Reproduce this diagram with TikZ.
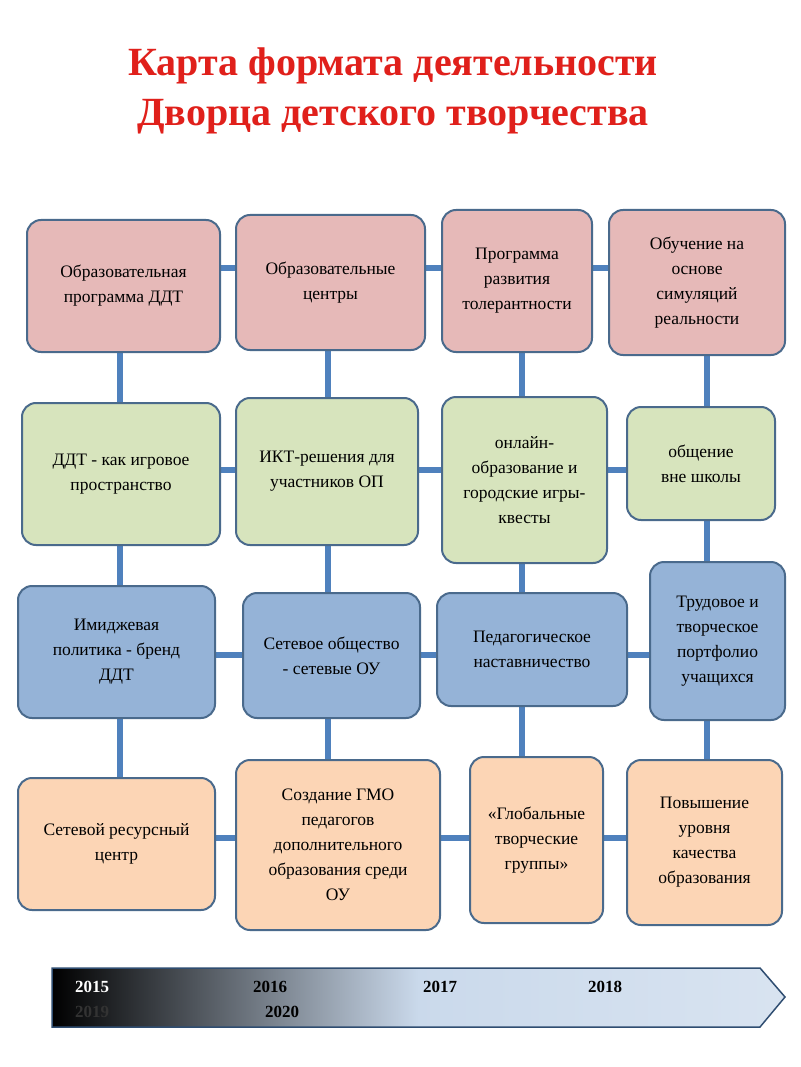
\documentclass[tikz,border=0pt]{standalone}
\usepackage{fontspec}
\setmainfont{Liberation Serif}
\usetikzlibrary{backgrounds}
\definecolor{pinkf}{HTML}{E6B9B8}
\definecolor{greenf}{HTML}{D7E4BD}
\definecolor{bluef}{HTML}{95B3D7}
\definecolor{peachf}{HTML}{FCD5B5}
\definecolor{edge}{HTML}{4A6A8C}
\definecolor{conn}{HTML}{4F81BD}
\definecolor{titlered}{HTML}{E0201B}
\tikzset{
 box/.style={draw=edge,line width=2pt,rounded corners=14pt,align=center,font=\fontsize{17.5}{25}\selectfont,inner sep=2pt},
 link/.style={conn,line width=6pt},
 yr/.style={font=\bfseries\fontsize{17}{20}\selectfont}
}
\newcommand{\bx}[7]{\node[box,fill=#6,minimum width=#3-#2,minimum height=#5-#4] (#1) at ({(#2+#3)/2},{(#4+#5)/2}) {#7};}
\begin{document}
\begin{tikzpicture}[x=1pt,y=-1pt]
\useasboundingbox (0,0) rectangle (800,1067);
\node[text=titlered,font=\bfseries\fontsize{40}{50}\selectfont,align=center] (title) at (393,91) {Карта формата деятельности\\Дворца детского творчества};
\bx{A1}{27}{220}{220}{352}{pinkf}{Образовательная\\программа ДДТ}
\bx{A2}{236}{425}{215}{350}{pinkf}{Образовательные\\центры}
\bx{A3}{442}{592}{210}{352}{pinkf}{Программа\\развития\\толерантности}
\bx{A4}{609}{785}{210}{355}{pinkf}{Обучение на\\основе\\симуляций\\реальности}
\bx{B1}{22}{220}{403}{545}{greenf}{ДДТ - как игровое\\пространство}
\bx{B2}{236}{418}{398}{545}{greenf}{ИКТ-решения для\\участников ОП}
\bx{B3}{442}{607}{397}{563}{greenf}{онлайн-\\образование и\\городские игры-\\квесты}
\bx{B4}{627}{775}{407}{520}{greenf}{общение\\вне школы}
\bx{C1}{18}{215}{586}{718}{bluef}{Имиджевая\\политика  - бренд\\ДДТ}
\bx{C2}{243}{420}{593}{718}{bluef}{Сетевое общество\\- сетевые ОУ}
\bx{C3}{437}{627}{593}{706}{bluef}{Педагогическое\\наставничество}
\bx{C4}{650}{785}{562}{720}{bluef}{Трудовое и\\творческое\\портфолио\\учащихся}
\bx{D1}{18}{215}{778}{910}{peachf}{Сетевой ресурсный\\центр}
\bx{D2}{236}{440}{760}{930}{peachf}{Создание ГМО\\педагогов\\дополнительного\\образования среди\\ОУ}
\bx{D3}{470}{603}{757}{923}{peachf}{«Глобальные\\творческие\\группы»}
\bx{D4}{627}{782}{760}{925}{peachf}{Повышение\\уровня\\качества\\образования}
\begin{scope}[on background layer]
\fill[white] (0,0) rectangle (800,1067);
\draw[link] (A1.east|-0,268) -- (A4.west|-0,268);
\draw[link] (B1.east|-0,470) -- (B4.west|-0,470);
\draw[link] (C1.east|-0,655) -- (C4.west|-0,655);
\draw[link] (D1.east|-0,838) -- (D4.west|-0,838);
\draw[link] (120,352) -- (120,778);
\draw[link] (328,350) -- (328,760);
\draw[link] (522,352) -- (522,757);
\draw[link] (707,355) -- (707,760);
\end{scope}
\shade[left color=black,right color=conn!22,middle color=conn!30,draw=conn!60!black,line width=1.5pt]
 (52,968) -- (760,968) -- (785,997) -- (760,1027) -- (52,1027) -- cycle;
\node[yr,text=white] (y15) at (92,987) {2015};
\node[yr] (y16) at (270,987) {2016};
\node[yr] (y17) at (440,987) {2017};
\node[yr] (y18) at (605,987) {2018};
\node[yr,text=black!80] (y19) at (92,1012) {2019};
\node[yr] (y20) at (282,1012) {2020};
\end{tikzpicture}
\end{document}
